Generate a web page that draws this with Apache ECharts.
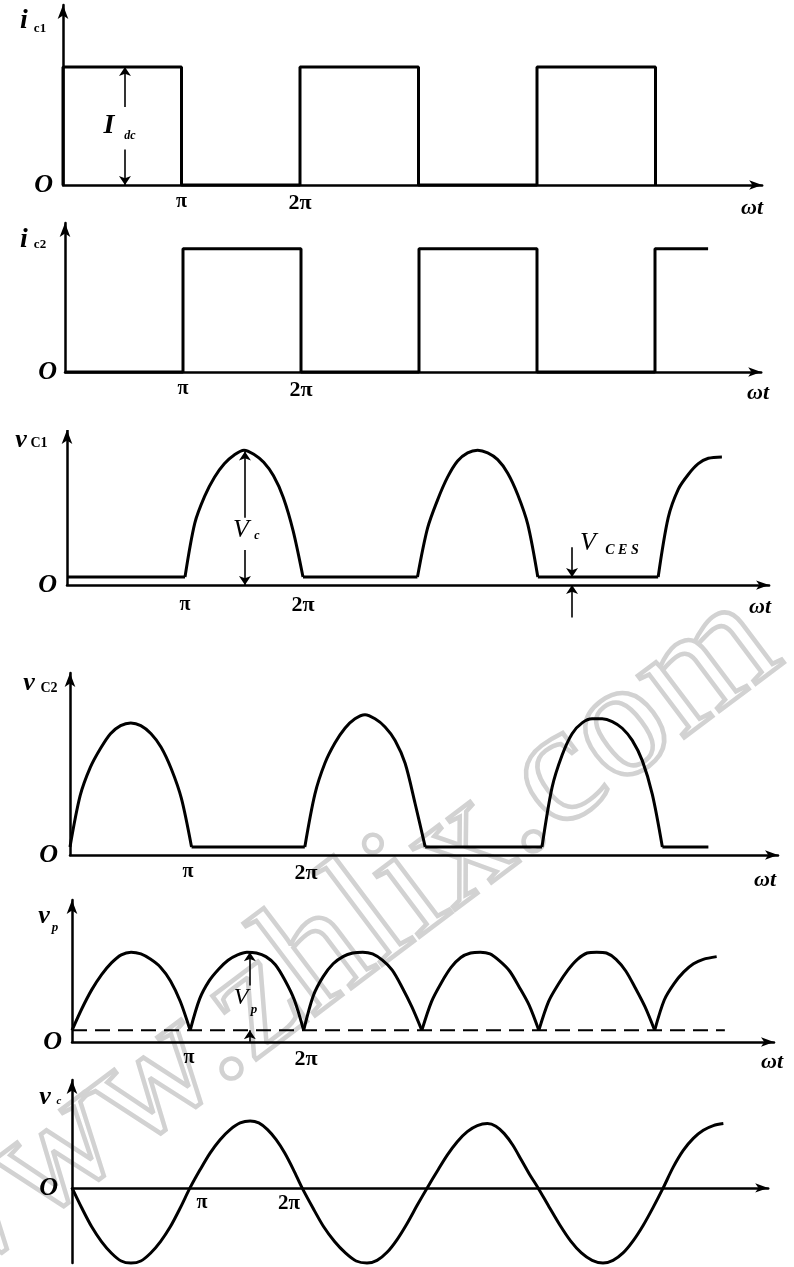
<!DOCTYPE html>
<html><head><meta charset="utf-8">
<script src="https://cdn.jsdelivr.net/npm/echarts@6/dist/echarts.min.js"></script>
<style>html,body{margin:0;padding:0;background:#fff}#c{width:794px;height:1267px}</style>
</head><body><div id="c"></div>
<script>
// ---------- DATA (x in units of pi, y normalised per panel) ----------
const xTickLabels = { 1: 'π', 2: '2π' };
const originLabel = 'O';

// Panel 1: i_c1 square wave
const ic1 = [[0,0],[0,1],[1,1],[1,0],[2,0],[2,1],[3,1],[3,0],[4,0],[4,1],[5,1],[5,0]];
// Panel 2: i_c2 square wave
const ic2 = [[0,0],[1,0],[1,1],[2,1],[2,0],[3,0],[3,1],[4,1],[4,0],[5,0],[5,1],[5.45,1]];

// Panel 3: v_C1
const vc1Low = [
  [[0,0.06],[1.0,0.06]],
  [[2.0,0.06],[2.97,0.06]],
  [[3.99,0.06],[5.01,0.06]]
];
const vc1Humps = [
  [[1.0,0.06],[1.083,0.46],[1.167,0.66],[1.25,0.80],[1.333,0.90],[1.417,0.965],[1.5,1.0],[1.583,0.97],[1.667,0.91],[1.75,0.81],[1.833,0.65],[1.917,0.40],[2.0,0.06]],
  [[2.97,0.06],[3.055,0.42],[3.14,0.63],[3.225,0.80],[3.31,0.92],[3.395,0.98],[3.48,1.0],[3.565,0.98],[3.65,0.93],[3.735,0.83],[3.82,0.67],[3.905,0.45],[3.99,0.06]],
  [[5.01,0.06],[5.095,0.50],[5.18,0.71],[5.265,0.82],[5.35,0.90],[5.435,0.94],[5.55,0.95]]
];

// Panel 4: v_C2
const vc2Low = [
  [[1.03,0.06],[1.99,0.06]],
  [[3.01,0.06],[4.0,0.06]],
  [[5.02,0.06],[5.41,0.06]]
];
const vc2Humps = [
  [[0.0,0.06],[0.086,0.44],[0.172,0.65],[0.258,0.79],[0.343,0.90],[0.429,0.96],[0.515,0.98],[0.6,0.96],[0.687,0.90],[0.772,0.80],[0.858,0.64],[0.944,0.42],[1.03,0.06]],
  [[1.99,0.06],[2.075,0.45],[2.16,0.68],[2.245,0.83],[2.33,0.94],[2.415,1.01],[2.5,1.04],[2.585,1.01],[2.67,0.95],[2.755,0.85],[2.84,0.68],[2.925,0.38],[3.01,0.06]],
  [[4.0,0.06],[4.085,0.50],[4.17,0.74],[4.255,0.90],[4.34,0.98],[4.425,1.01],[4.51,1.01],[4.595,0.99],[4.68,0.94],[4.765,0.85],[4.85,0.70],[4.935,0.45],[5.02,0.06]]
];

// Panel 5: v_p (full-wave rectified) and dashed level
const vpHumps = [
  [[0,0.13],[0.084,0.37],[0.168,0.58],[0.253,0.75],[0.337,0.88],[0.421,0.97],[0.505,1.0],[0.589,0.98],[0.673,0.92],[0.758,0.83],[0.842,0.68],[0.926,0.45],[1.01,0.13]],
  [[1.01,0.13],[1.091,0.48],[1.172,0.68],[1.253,0.81],[1.334,0.91],[1.415,0.97],[1.495,1.0],[1.576,0.99],[1.657,0.95],[1.738,0.86],[1.819,0.69],[1.9,0.47],[1.98,0.13]],
  [[1.98,0.13],[2.064,0.52],[2.148,0.73],[2.232,0.87],[2.316,0.95],[2.4,0.99],[2.485,1.0],[2.569,0.98],[2.653,0.91],[2.737,0.80],[2.821,0.61],[2.905,0.39],[2.99,0.13]],
  [[2.99,0.13],[3.073,0.45],[3.157,0.66],[3.24,0.83],[3.323,0.94],[3.407,0.99],[3.49,1.0],[3.573,0.98],[3.657,0.90],[3.74,0.79],[3.823,0.61],[3.907,0.41],[3.99,0.13]],
  [[3.99,0.13],[4.073,0.45],[4.155,0.64],[4.238,0.80],[4.32,0.92],[4.403,0.99],[4.485,1.0],[4.568,0.99],[4.65,0.92],[4.733,0.79],[4.815,0.60],[4.898,0.39],[4.98,0.13]],
  [[4.98,0.13],[5.063,0.47],[5.146,0.65],[5.229,0.78],[5.312,0.87],[5.395,0.92],[5.51,0.95]]
];
const vpLevel = [[0,0.13],[5.58,0.13]];

// Panel 6: v_c sine-like wave
const vcWave = [
  [0,0],[0.083,-0.30],[0.167,-0.58],[0.25,-0.80],[0.333,-0.97],[0.417,-1.09],[0.5,-1.12],[0.583,-1.09],[0.667,-0.97],[0.75,-0.80],[0.833,-0.58],[0.917,-0.30],
  [1.0,0],[1.085,0.27],[1.17,0.52],[1.255,0.72],[1.34,0.87],[1.425,0.97],[1.51,1.0],[1.583,0.97],[1.657,0.87],[1.73,0.72],[1.803,0.52],[1.877,0.27],
  [1.95,0],[2.042,-0.30],[2.133,-0.58],[2.225,-0.80],[2.317,-0.97],[2.408,-1.09],[2.5,-1.12],[2.585,-1.08],[2.67,-0.96],[2.755,-0.77],[2.84,-0.53],[2.925,-0.26],
  [3.01,0],[3.095,0.25],[3.18,0.49],[3.265,0.69],[3.35,0.84],[3.435,0.93],[3.52,0.96],[3.592,0.92],[3.663,0.81],[3.735,0.64],[3.807,0.42],[3.878,0.20],
  [3.95,0],[4.042,-0.28],[4.133,-0.55],[4.225,-0.79],[4.317,-0.97],[4.408,-1.08],[4.5,-1.12],[4.585,-1.08],[4.67,-0.97],[4.755,-0.79],[4.84,-0.56],[4.925,-0.29],
  [5.01,0],[5.095,0.31],[5.18,0.56],[5.265,0.74],[5.35,0.86],[5.435,0.93],[5.52,0.96]
];

// Annotation arrows: [x, yFrom, yTo] (arrow head at yTo)
const idcArrows = [[0.523,0.66,1.0],[0.523,0.30,0.0]];
const vcArrows = [[1.508,0.50,0.99],[1.508,0.26,0.0]];
const vcesArrows = [[4.28,0.28,0.06],[4.28,-0.24,0.0]];
const vpArrows = [[1.52,0.63,1.0],[1.52,0.0,0.13]];

// ---------- LAYOUT ----------
const panels = [
  {left:63, top:5,    height:180,   xMax:5.9,  ppx:118.5, yMin:0,     yMax:1.525, yInt:5,    lm:7},
  {left:65, top:223,  height:149,   xMax:5.9,  ppx:118,   yMin:0,     yMax:1.21,  yInt:5,    lm:7},
  {left:67, top:430,  height:195.5, xMax:5.95, ppx:118,   yMin:-0.3,  yMax:1.15,  yInt:0.3,  lm:-31, hideYLine:true},
  {left:70, top:673,  height:182,   xMax:6.0,  ppx:118,   yMin:0,     yMax:1.35,  yInt:5,    lm:7},
  {left:72, top:900,  height:142,   xMax:6.0,  ppx:117,   yMin:0,     yMax:1.58,  yInt:5,    lm:6},
  {left:72, top:1080, height:183,   xMax:5.9,  ppx:118,   yMin:-1.12, yMax:1.61,  yInt:1.12, lm:-70}
];
const oMargins = [10, 8, 10, 12, 10, 14];
const FONT = 'Liberation Serif';
const SMOOTH = 0.3;

const grids = [], xAxes = [], yAxes = [], series = [];
panels.forEach((p, i) => {
  grids.push({left:p.left, top:p.top, width:p.xMax*p.ppx, height:p.height, containLabel:false, outerBoundsMode:'none'});
  const isLast = i === 5;
  xAxes.push({
    type:'value', gridIndex:i, min:0, max:p.xMax, interval:1,
    axisLine:{onZero:true, lineStyle:{color:'#000', width:2.5}, symbol:['none','arrow'], symbolSize:[7,13]},
    axisTick:{show:false}, splitLine:{show:false},
    axisLabel:{
      margin:p.lm,
      formatter: v => v === 1 ? '{a|' + xTickLabels[1] + '}' : (v === 2 ? '{b|' + xTickLabels[2] + '}' : ''),
      rich: isLast ? {
        a:{fontFamily:FONT, fontWeight:'bold', fontSize:20, color:'#000', padding:[0,0,0,24]},
        b:{fontFamily:FONT, fontWeight:'bold', fontSize:21, color:'#000', padding:[0,38,0,0]}
      } : {
        a:{fontFamily:FONT, fontWeight:'bold', fontSize:20, color:'#000'},
        b:{fontFamily:FONT, fontWeight:'bold', fontSize:22, color:'#000'}
      }
    }
  });
  yAxes.push({
    type:'value', gridIndex:i, min:p.yMin, max:p.yMax, interval:p.yInt,
    axisLine:{show:!p.hideYLine, onZero:true, lineStyle:{color:'#000', width:2.5}, symbol:['none','arrow'], symbolSize:[8,14]},
    axisTick:{show:false}, splitLine:{show:false},
    axisLabel:{margin:oMargins[i], color:'#000', fontFamily:FONT, fontStyle:'italic', fontWeight:'bold', fontSize:26,
      formatter: v => Math.abs(v) < 1e-6 ? originLabel : ''}
  });
});

const base = (i, data, extra) => Object.assign({
  type:'line', xAxisIndex:i, yAxisIndex:i, data, symbol:'none', showSymbol:false,
  lineStyle:{color:'#000', width:3}, animation:false, silent:true, z:3, clip:false
}, extra || {});
const markers = (arrows) => ({
  silent:true, symbol:['none','arrow'], symbolSize:9, animation:false,
  label:{show:false}, lineStyle:{color:'#000', width:1.6, type:'solid'}, emphasis:{disabled:true},
  data: arrows.map(a => [{coord:[a[0], a[1]]}, {coord:[a[0], a[2]]}])
});

series.push(base(0, ic1, {markLine: markers(idcArrows)}));
series.push(base(1, ic2));
vc1Low.forEach(s => series.push(base(2, s)));
vc1Humps.forEach(s => series.push(base(2, s, {smooth:SMOOTH})));
series.push(base(2, [[0,0.06],[0,0.06]], {lineStyle:{width:0}, markLine: markers(vcArrows.concat(vcesArrows))}));
// y-axis line of panel 3 (starts at the baseline; the grid extends lower for the V_CES arrow)
series.push(base(2, [[0,0]], {lineStyle:{width:0}, markLine:{silent:true, symbol:['none','arrow'], symbolSize:[8,14], label:{show:false}, animation:false,
  lineStyle:{color:'#000', width:2.5, type:'solid'}, data:[[{coord:[0,0]},{coord:[0,panels[2].yMax]}]]}}));
vc2Low.forEach(s => series.push(base(3, s)));
vc2Humps.forEach(s => series.push(base(3, s, {smooth:SMOOTH})));
vpHumps.forEach(s => series.push(base(4, s, {smooth:SMOOTH})));
series.push(base(4, vpLevel, {lineStyle:{color:'#000', width:2, type:[15,8]}, markLine: markers(vpArrows)}));
series.push(base(5, vcWave, {smooth:SMOOTH}));

// ---------- TEXT ANNOTATIONS ----------
function txt(x, y, s, size, italic, bold) {
  return {type:'text', x, y, silent:true, z:10, style:{text:s, x:0, y:0, align:'center', verticalAlign:'middle', fill:'#000',
    font:(italic?'italic ':'') + (bold?'bold ':'') + size + 'px "' + FONT + '"'}};
}
const graphics = [
  {type:'text', x:335, y:945, rotation:0.645, silent:true, z:-1,
   style:{text:'www.zhlix.com', x:0, y:0, align:'center', verticalAlign:'middle', fill:'rgba(255,255,255,0)', stroke:'#d2d2d2', lineWidth:4.5,
          font:'168px "' + FONT + '"'}},
  txt(24, 21, 'i', 28, true, true), txt(40, 29, 'c1', 13, false, true),
  txt(109, 126, 'I', 28, true, true), txt(130, 136, 'dc', 12, true, true),
  txt(752, 208, 'ωt', 22, true, true),
  txt(24, 240, 'i', 28, true, true), txt(40, 245, 'c2', 13, false, true),
  txt(758, 393, 'ωt', 22, true, true),
  txt(21, 440, 'v', 26, true, true), txt(39, 443, 'C1', 14, false, true),
  txt(241, 530, 'V', 26, true, false), txt(257, 536, 'c', 12, true, true),
  txt(588, 543, 'V', 26, true, false), txt(622, 550, 'C E S', 14, true, true),
  txt(760, 607, 'ωt', 22, true, true),
  txt(29, 683, 'v', 26, true, true), txt(49, 688, 'C2', 14, false, true),
  txt(765, 880, 'ωt', 22, true, true),
  txt(44, 916, 'v', 26, true, true), txt(55, 928, 'p', 13, true, true),
  txt(241, 998, 'V', 24, true, false), txt(254, 1010, 'p', 13, true, true),
  txt(772, 1062, 'ωt', 22, true, true),
  txt(45, 1097, 'v', 26, true, true), txt(59, 1101, 'c', 11, true, true)
];

const chart = echarts.init(document.getElementById('c'), null, {renderer:'canvas'});
chart.setOption({
  backgroundColor:'#fff', animation:false,
  grid:grids, xAxis:xAxes, yAxis:yAxes, series, graphic:graphics
});
</script></body></html>
